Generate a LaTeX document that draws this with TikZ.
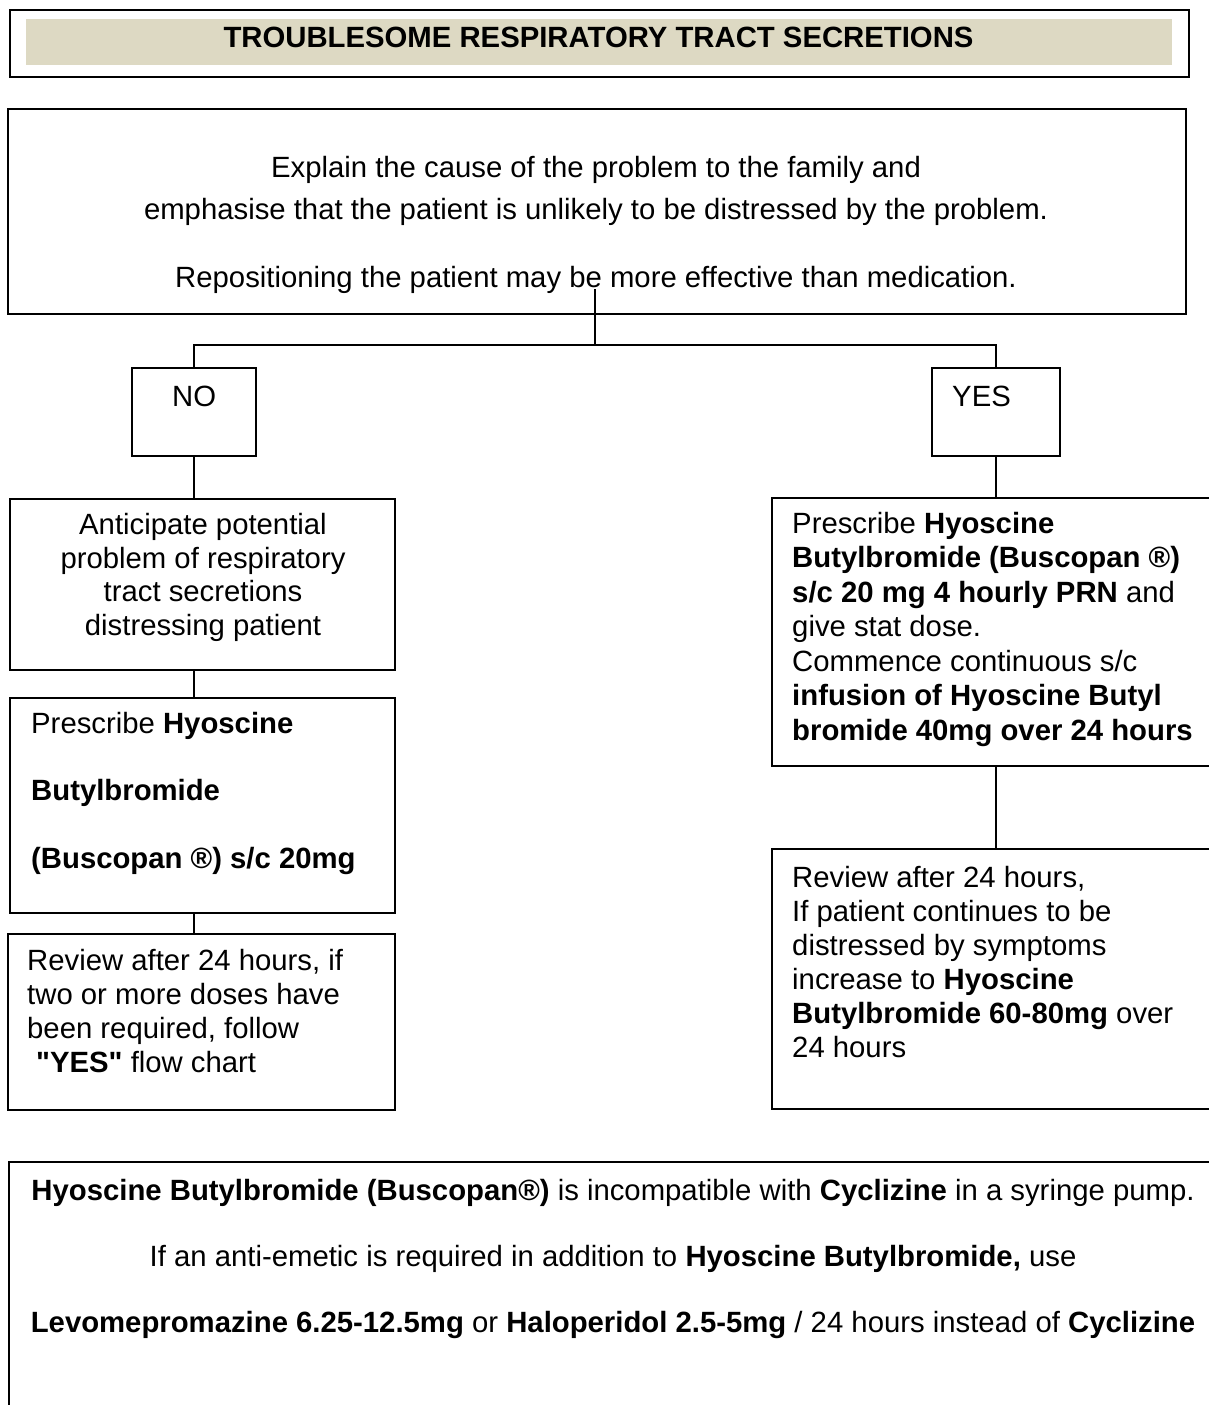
\documentclass[tikz,border=0pt]{standalone}
\usepackage{fontspec}
\setmainfont{Liberation Sans}[Ligatures=TeXOff]
\definecolor{tanfill}{HTML}{DDD9C3}
\begin{document}
\begin{tikzpicture}[x=1pt,y=-1pt,
  box/.style={draw, line width=1.6pt, inner sep=0pt, anchor=north west},
  link/.style={line width=1.4pt},
  txt/.style={inner sep=0pt, font=\fontsize{29.3}{34}\selectfont},
]
\useasboundingbox (0,0) rectangle (1209,1405);
\fill[white] (0,0) rectangle (1209,1405);

% title
\node[box, line width=2.4pt, minimum width=1179pt, minimum height=67pt] (titlebox) at (9,9) {};
\node[fill=tanfill, inner sep=0pt, anchor=north west, minimum width=1146pt, minimum height=46pt] (titlefill) at (26,19) {};
\node[txt, font=\fontsize{29.3}{34}\selectfont\bfseries, anchor=base] (title) at (598.5,48) {TROUBLESOME RESPIRATORY TRACT SECRETIONS};

% intro box
\node[box, minimum width=1178pt, minimum height=205pt] (intro) at (7,108) {};
\node[txt, align=center, anchor=base, font=\fontsize{29.3}{42}\selectfont] (introtext) at (596,219) {Explain the cause of the problem to the family and\\emphasise that the patient is unlikely to be distressed by the problem.};
\node[txt, anchor=base] (introtext2) at (596,287) {Repositioning the patient may be more effective than medication.};

% NO / YES
\node[box, minimum width=124pt, minimum height=88pt] (no) at (131,367) {};
\node[txt, anchor=base west] (notext) at (172,406) {NO};
\node[box, minimum width=128pt, minimum height=88pt] (yes) at (931,367) {};
\node[txt, anchor=base west] (yestext) at (952,406) {YES};

\coordinate (stem) at (595,289);
\coordinate (fork) at (595,345);
\draw[link] (stem) -- (fork);
\draw[link] (no.north) -- (no.north |- fork) -- (yes.north |- fork) -- (yes.north);

% left column
\node[box, minimum width=385pt, minimum height=171pt] (antic) at (9,498) {};
\node[txt, align=center, anchor=base, font=\fontsize{29.3}{33.4}\selectfont] (antictext) at (203,635) {Anticipate potential\\problem of respiratory\\tract secretions\\distressing patient};

\node[box, minimum width=385pt, minimum height=215pt] (presc) at (9,697) {};
\node[txt, align=left, anchor=base west, font=\fontsize{29.3}{67.5}\selectfont] (presctext) at (31,868) {Prescribe \textbf{Hyoscine}\\\textbf{Butylbromide}\\\textbf{(Buscopan ®) s/c 20mg}};

\node[box, minimum width=387pt, minimum height=176pt] (revl) at (7,933) {};
\node[txt, align=left, anchor=base west, font=\fontsize{29.3}{33.7}\selectfont] (revltext) at (27,1072) {Review after 24 hours, if\\two or more doses have\\been required, follow\\\hspace*{9pt}\textbf{"YES"} flow chart};

\draw[link] (no.south) -- (no.south |- antic.north);
\draw[link] (antic.south -| no.south) -- (presc.north -| no.south);
\draw[link] (presc.south -| no.south) -- (revl.north -| no.south);

% right column
\node[box, minimum width=449pt, minimum height=268pt] (prescr) at (771,497) {};
\node[txt, align=left, anchor=base west, font=\fontsize{29.3}{34.5}\selectfont] (prescrtext) at (792,740) {Prescribe \textbf{Hyoscine}\\\textbf{Butylbromide (Buscopan ®)}\\\textbf{s/c 20 mg 4 hourly PRN} and\\give stat dose.\\Commence continuous s/c\\\textbf{infusion of Hyoscine Butyl}\\\textbf{bromide 40mg over 24 hours}};

\node[box, minimum width=449pt, minimum height=260pt] (revr) at (771,848) {};
\node[txt, align=left, anchor=base west, font=\fontsize{29.3}{34}\selectfont] (revrtext) at (792,1057) {Review after 24 hours,\\If patient continues to be\\distressed by symptoms\\increase to \textbf{Hyoscine}\\\textbf{Butylbromide 60-80mg} over\\24 hours};

\draw[link] (yes.south) -- (yes.south |- prescr.north);
\draw[link] (prescr.south -| yes.south) -- (revr.north -| yes.south);

% bottom note
\node[box, minimum width=1212pt, minimum height=270pt] (note) at (8,1161) {};
\node[txt, align=center, anchor=base, font=\fontsize{29.3}{66}\selectfont] (notetext) at (613,1332) {\textbf{Hyoscine Butylbromide (Buscopan®)} is incompatible with \textbf{Cyclizine} in a syringe pump.\\If an anti-emetic is required in addition to \textbf{Hyoscine Butylbromide,} use\\\textbf{Levomepromazine 6.25-12.5mg} or \textbf{Haloperidol 2.5-5mg} / 24 hours instead of \textbf{Cyclizine}};
\end{tikzpicture}
\end{document}
